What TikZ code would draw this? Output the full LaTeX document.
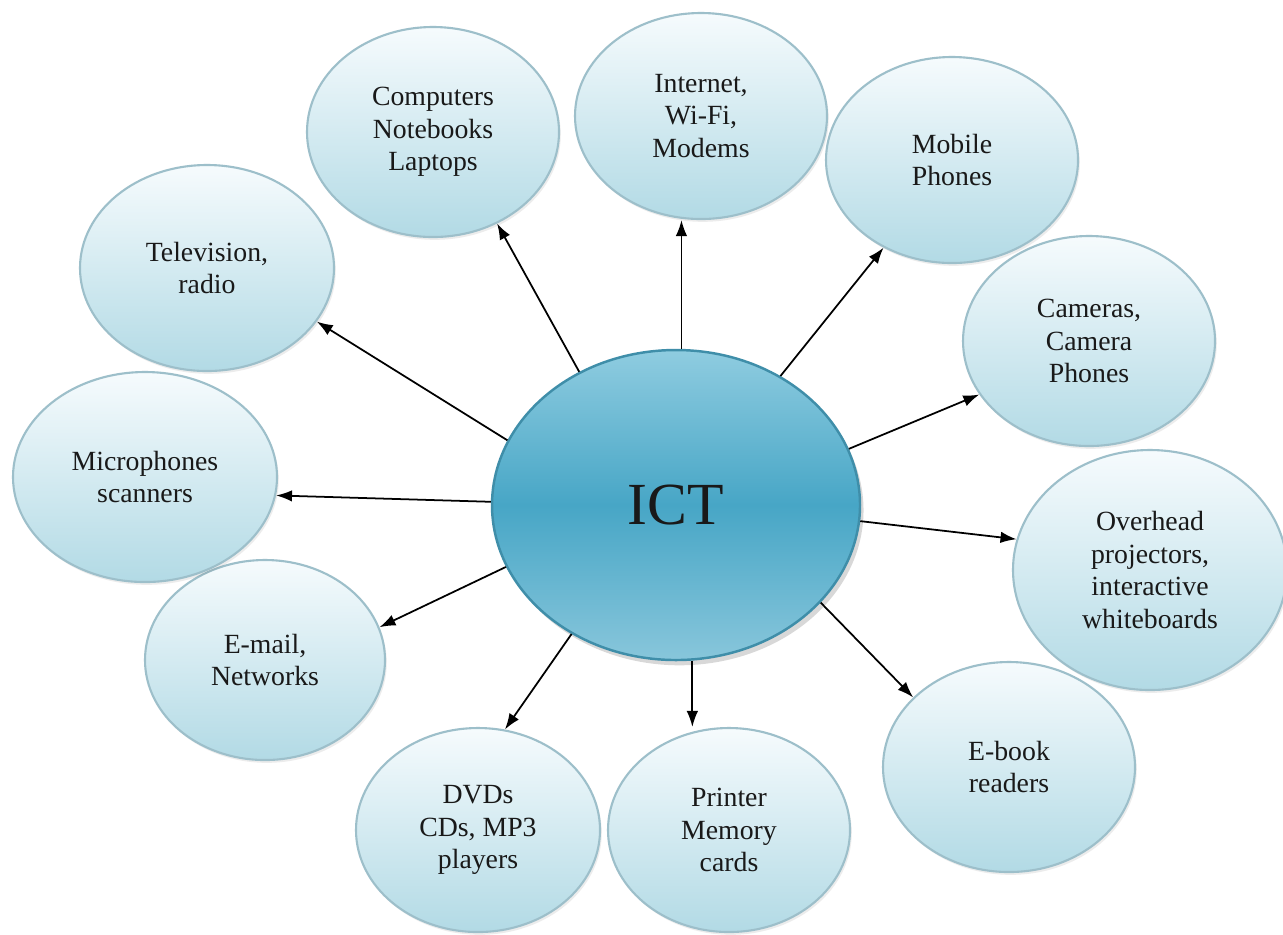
\documentclass[tikz,border=0pt]{standalone}
\usepackage{fontspec}
\setmainfont{Liberation Serif}
\usetikzlibrary{shapes.geometric,arrows.meta,shadows}
\definecolor{leaftop}{HTML}{F6FBFD}
\definecolor{leafbot}{HTML}{B2DAE5}
\definecolor{leafborder}{HTML}{9DBFCA}
\definecolor{icttop}{HTML}{8FCCE0}
\definecolor{ictmid}{HTML}{47A6C6}
\definecolor{ictbot}{HTML}{88C6DB}
\definecolor{ictborder}{HTML}{3F8EA9}
\tikzset{
  leaf/.style={ellipse, draw=leafborder, line width=0.6pt, top color=leaftop, bottom color=leafbot,
    inner sep=0pt, align=center, font=\fontsize{7.9}{9.3}\selectfont, text=black!90,
    drop shadow={shadow xshift=0.5pt, shadow yshift=-0.8pt, opacity=0.15}},
  hub/.style={ellipse, draw=ictborder, line width=0.7pt, top color=icttop, bottom color=ictbot, middle color=ictmid,
    inner sep=0pt, font=\fontsize{17}{19}\selectfont, text=black!90,
    drop shadow={shadow xshift=1pt, shadow yshift=-1.5pt, opacity=0.3}},
  arr/.style={-{Latex[length=1.6mm,width=1.15mm]}, line width=0.5pt, black}
}
\begin{document}
\begin{tikzpicture}
\useasboundingbox (0,0) rectangle (12.83,-9.34);
\fill[white] (0,0) rectangle (12.83,-9.34);
\node[hub, minimum width=3.68cm, minimum height=3.10cm] (ict) at (6.76,-5.05) {ICT};
\node[leaf, minimum width=2.52cm, minimum height=2.10cm] (comp) at (4.33,-1.32) {Computers\\Notebooks\\Laptops};
\node[leaf, minimum width=2.52cm, minimum height=2.06cm] (inet) at (7.01,-1.16) {Internet,\\Wi-Fi,\\Modems};
\node[leaf, minimum width=2.52cm, minimum height=2.06cm] (mob) at (9.52,-1.60) {Mobile\\Phones};
\node[leaf, minimum width=2.52cm, minimum height=2.10cm] (cam) at (10.89,-3.41) {Cameras,\\Camera\\Phones};
\node[leaf, minimum width=2.74cm, minimum height=2.40cm] (ohp) at (11.50,-5.70) {Overhead\\projectors,\\interactive\\whiteboards};
\node[leaf, minimum width=2.52cm, minimum height=2.10cm] (ebook) at (10.09,-7.67) {E-book\\readers};
\node[leaf, minimum width=2.42cm, minimum height=2.04cm] (prn) at (7.29,-8.30) {Printer\\Memory\\cards};
\node[leaf, minimum width=2.44cm, minimum height=2.04cm] (dvd) at (4.78,-8.30) {DVDs\\CDs, MP3\\players};
\node[leaf, minimum width=2.40cm, minimum height=2.00cm] (mail) at (2.65,-6.60) {E-mail,\\Networks};
\node[leaf, minimum width=2.64cm, minimum height=2.10cm] (mic) at (1.45,-4.77) {Microphones\\scanners};
\node[leaf, minimum width=2.54cm, minimum height=2.06cm] (tv) at (2.07,-2.68) {Television,\\radio};

\draw[arr] (ict.88) -- (ict.88 |- inet.south);
\draw[arr] (ict.126.8) -- (comp.305);
\draw[arr] (ict.159.5) -- (tv.334);
\draw[arr] (ict.179) -- (mic.352);
\draw[arr] (ict.200.8) -- (mail.16);
\draw[arr] (ict.231.5) -- (dvd.75);
\draw[arr] (ict.276) -- (ict.276 |- prn.north);
\draw[arr] (ict.326.5) -- (ebook.144.5);
\draw[arr] (ict.355) -- (ohp.167);
\draw[arr] (ict.18.3) -- (cam.206);
\draw[arr] (ict.51.9) -- (mob.232.8);
\end{tikzpicture}
\end{document}
